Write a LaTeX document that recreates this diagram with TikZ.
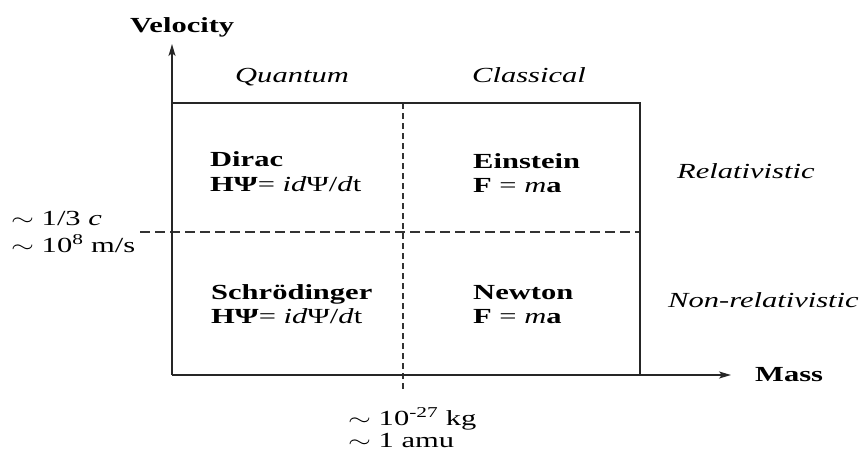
\documentclass[tikz,border=0pt]{standalone}
\usepackage{graphicx}
\usepackage{fontspec}
\setmainfont[FakeStretch=1.42]{Liberation Serif}
\usetikzlibrary{arrows.meta}
\newcommand{\tld}{\scalebox{1.42}[1]{$\sim$}}
\begin{document}
\begin{tikzpicture}[x=1pt,y=-1pt,
  txt/.style={inner sep=0pt,anchor=base west,font=\fontsize{21.5}{24}\selectfont},
  axis/.style={line width=1.7pt,draw=black!85,-{Stealth[length=12pt,width=7pt,inset=3pt]}},
  frame/.style={line width=1.6pt,draw=black!85},
  hdash/.style={line width=1.4pt,draw=black!80,dash pattern=on 10pt off 5pt},
  vdash/.style={line width=1.6pt,draw=black!80,dash pattern=on 6pt off 4pt}]
\useasboundingbox (0,0) rectangle (866,450);
% coordinates
\coordinate (O) at (172,375);
\coordinate (Ytip) at (172,44);
\coordinate (Xtip) at (731,375);
\coordinate (TL) at (172,103);
\coordinate (TR) at (640,103);
\coordinate (BR) at (640,375);
\coordinate (HL) at (140,232);
\coordinate (HR) at (640,232);
\coordinate (VT) at (403,103);
\coordinate (VB) at (403,392);
% frame and dashes
\draw[hdash] (HL) -- (HR);
\draw[vdash] (VT) -- (VB);
\draw[frame] (TL) -- (TR) -- (BR);
\draw[axis] (O) -- (Ytip);
\draw[axis] (O) -- (Xtip);
% labels
\node[txt] (vel) at (130,32) {\textbf{Velocity}};
\node[txt] (mass) at (755,381) {\textbf{Mass}};
\node[txt] (quant) at (235,82) {\textit{Quantum}};
\node[txt] (class) at (472,82) {\textit{Classical}};
\node[txt] (rel) at (677,178) {\textit{Relativistic}};
\node[txt] (nonrel) at (668,307) {\textit{Non-relativistic}};
\node[txt] (dirac) at (210,166) {\textbf{Dirac}};
\node[txt] (diraceq) at (210,191) {\textbf{HΨ}= \textit{id}Ψ/\textit{d}t};
\node[txt] (ein) at (473,168) {\textbf{Einstein}};
\node[txt] (eineq) at (473,192) {\textbf{F} = \textit{m}\textbf{a}};
\node[txt] (sch) at (211,299) {\textbf{Schrödinger}};
\node[txt] (scheq) at (211,323) {\textbf{HΨ}= \textit{id}Ψ/\textit{d}t};
\node[txt] (newt) at (473,299) {\textbf{Newton}};
\node[txt] (newteq) at (473,323) {\textbf{F} = \textit{m}\textbf{a}};
\node[txt] (c1) at (11,225) {\tld{} 1/3 \textit{c}};
\node[txt] (c2) at (11,252) {\tld{} 10\textsuperscript{8} m/s};
\node[txt] (m1) at (348,425) {\tld{} 10\textsuperscript{-27} kg};
\node[txt] (m2) at (348,447) {\tld{} 1 amu};
\end{tikzpicture}
\end{document}
